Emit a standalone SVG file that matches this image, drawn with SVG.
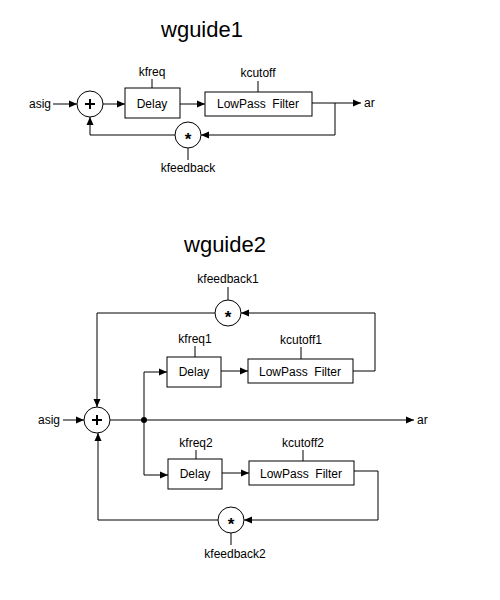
<svg xmlns="http://www.w3.org/2000/svg" width="500" height="600" viewBox="0 0 500 600">
<defs>
<marker id="ah" markerWidth="9" markerHeight="8" refX="8" refY="4" orient="auto" markerUnits="userSpaceOnUse">
<path d="M0,0.5 L8,4 L0,7.5 z" fill="#000"/>
</marker>
<style>
rect,circle{fill:#fff;stroke:#000;stroke-width:1}
.c line,.c polyline{stroke:#000;stroke-width:1;fill:none}
.a{marker-end:url(#ah)}
text{font-family:"Liberation Sans",Arial,sans-serif;font-size:12px;fill:#000}
.t{font-size:22px}
.m{text-anchor:middle}
.op{font-size:20px;font-weight:bold}
.st{font-size:17px;font-weight:bold}
</style>
</defs>
<rect width="500" height="600" style="fill:#fff;stroke:none"/>

<text class="t m" x="202" y="37">wguide1</text>
<text class="t m" x="225" y="252">wguide2</text>

<g class="c" id="connectors">
<line class="a" x1="53" y1="104" x2="77" y2="104"/>
<line class="a" x1="103" y1="104" x2="125" y2="104"/>
<line x1="152" y1="79" x2="152" y2="88"/>
<line class="a" x1="180" y1="104" x2="205" y2="104"/>
<line x1="258" y1="81" x2="258" y2="92"/>
<line class="a" x1="312" y1="103" x2="361" y2="103"/>
<polyline class="a" points="335,103 335,135 201,135"/>
<polyline class="a" points="175,135 90,135 90,117"/>
<line x1="188" y1="148" x2="188" y2="160"/>

<line x1="228" y1="287" x2="228" y2="300"/>
<polyline class="a" points="215,313 97,313 97,407"/>
<polyline class="a" points="353,371 375,371 375,313 241,313"/>
<line class="a" x1="63" y1="420" x2="84" y2="420"/>
<line class="a" x1="110" y1="420" x2="414" y2="420"/>
<polyline class="a" points="144,420 144,372 167,372"/>
<line x1="195" y1="346" x2="195" y2="357"/>
<line class="a" x1="221" y1="371" x2="248" y2="371"/>
<line x1="301" y1="347" x2="301" y2="359"/>
<polyline class="a" points="144,420 144,475 168,475"/>
<line x1="196" y1="450" x2="196" y2="459"/>
<line class="a" x1="222" y1="473" x2="249" y2="473"/>
<line x1="303" y1="450" x2="303" y2="461"/>
<polyline class="a" points="354,471 378,471 378,520 244,520"/>
<polyline class="a" points="218,520 98,520 98,433"/>
<line x1="231" y1="533" x2="231" y2="545"/>
<circle cx="144" cy="420" r="3" style="fill:#000;stroke:none"/>
</g>

<g id="asig1"><text x="51" y="108" text-anchor="end">asig</text></g>
<g id="sum1"><circle cx="90" cy="104" r="13"/><path d="M85,104 H95 M90,99 V109" stroke="#000" stroke-width="2"/></g>
<g id="delay1"><rect x="125" y="88" width="55" height="30"/><text class="m" x="152" y="108">Delay</text></g>
<g id="kfreq"><text class="m" x="152" y="76">kfreq</text></g>
<g id="lpf1"><rect x="205" y="92" width="107" height="24"/><text class="m" x="258" y="108" xml:space="preserve">LowPass  Filter</text></g>
<g id="kcutoff"><text class="m" x="258" y="77">kcutoff</text></g>
<g id="ar1"><text x="364" y="107">ar</text></g>
<g id="mul1"><circle cx="188" cy="135" r="13"/><text class="m st" x="188" y="145">*</text></g>
<g id="kfeedback"><text class="m" x="188" y="172">kfeedback</text></g>

<g id="kfeedback1"><text class="m" x="228" y="283">kfeedback1</text></g>
<g id="mul2a"><circle cx="228" cy="313" r="13"/><text class="m st" x="228" y="323">*</text></g>
<g id="asig2"><text x="60" y="424" text-anchor="end">asig</text></g>
<g id="sum2"><circle cx="97" cy="420" r="13"/><path d="M92,420 H102 M97,415 V425" stroke="#000" stroke-width="2"/></g>
<g id="ar2"><text x="417" y="424">ar</text></g>
<g id="kfreq1"><text class="m" x="195" y="343">kfreq1</text></g>
<g id="delay2a"><rect x="167" y="357" width="54" height="30"/><text class="m" x="194" y="376">Delay</text></g>
<g id="kcutoff1"><text class="m" x="301" y="344">kcutoff1</text></g>
<g id="lpf2a"><rect x="248" y="359" width="105" height="24"/><text class="m" x="300" y="376" xml:space="preserve">LowPass  Filter</text></g>
<g id="kfreq2"><text class="m" x="196" y="447">kfreq2</text></g>
<g id="delay2b"><rect x="168" y="459" width="54" height="30"/><text class="m" x="195" y="478">Delay</text></g>
<g id="kcutoff2"><text class="m" x="303" y="447">kcutoff2</text></g>
<g id="lpf2b"><rect x="249" y="461" width="105" height="24"/><text class="m" x="301" y="478" xml:space="preserve">LowPass  Filter</text></g>
<g id="mul2b"><circle cx="231" cy="520" r="13"/><text class="m st" x="231" y="530">*</text></g>
<g id="kfeedback2"><text class="m" x="235" y="558">kfeedback2</text></g>
</svg>
